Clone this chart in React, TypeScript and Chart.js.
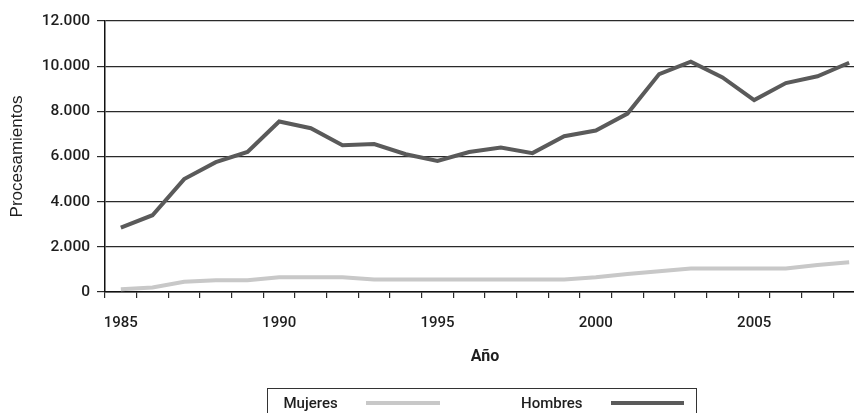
import React, { useEffect, useRef } from "react";
import { Chart, registerables } from "chart.js";

Chart.register(...registerables);

const years = [
  "1985", "1986", "1987", "1988", "1989", "1990", "1991", "1992",
  "1993", "1994", "1995", "1996", "1997", "1998", "1999", "2000",
  "2001", "2002", "2003", "2004", "2005", "2006", "2007", "2008",
];
const mujeres = [
  120, 200, 450, 520, 520, 650, 650, 650, 550, 550, 550, 550,
  550, 550, 550, 650, 800, 920, 1040, 1040, 1040, 1040, 1200, 1320,
];
const hombres = [
  2850, 3400, 5000, 5750, 6200, 7550, 7250, 6500, 6550, 6100, 5800, 6200,
  6400, 6150, 6900, 7150, 7900, 9650, 10200, 9500, 8500, 9250, 9550, 10150,
];
const yTicks = [0, 2000, 4000, 6000, 8000, 10000, 12000];
const seriesNames = ["Mujeres", "Hombres"];
const xTitle = "Año";
const yTitle = "Procesamientos";

const TICK_FONT = "Roboto, 'DejaVu Sans Condensed', sans-serif";
const TEXT = "#1e1e1e";
const GRID = "#2a2a2a";

const fmt = (n: number) =>
  String(n).replace(/\B(?=(\d{3})+(?!\d))/g, ".");

const legendPlugin = {
  id: "boxLegend",
  afterDraw(chart: any) {
    const ctx = chart.ctx as CanvasRenderingContext2D;
    const ds = chart.data.datasets;
    ctx.save();
    ctx.strokeStyle = "#333333";
    ctx.lineWidth = 1;
    ctx.strokeRect(267.5, 388.5, 429, 40);
    ctx.font = `500 15px ${TICK_FONT}`;
    ctx.fillStyle = TEXT;
    ctx.textBaseline = "middle";
    const items = [
      { tx: 283.5, lx0: 366, lx1: 440 },
      { tx: 521, lx0: 611, lx1: 684 },
    ];
    items.forEach((it, i) => {
      ctx.fillText(ds[i].label, it.tx, 404);
      ctx.strokeStyle = ds[i].borderColor;
      ctx.lineWidth = 4;
      ctx.beginPath();
      ctx.moveTo(it.lx0, 403);
      ctx.lineTo(it.lx1, 403);
      ctx.stroke();
    });
    ctx.restore();
  },
};

export default function App() {
  const ref = useRef<HTMLCanvasElement | null>(null);

  useEffect(() => {
    if (!ref.current) return;
    const chart = new Chart(ref.current, {
      type: "line",
      data: {
        labels: years,
        datasets: [
          {
            label: seriesNames[0],
            data: mujeres,
            borderColor: "#c8c8c8",
            backgroundColor: "#c8c8c8",
            borderWidth: 4,
            pointRadius: 0,
            tension: 0,
          },
          {
            label: seriesNames[1],
            data: hombres,
            borderColor: "#5a5a5a",
            backgroundColor: "#5a5a5a",
            borderWidth: 4,
            pointRadius: 0,
            tension: 0,
          },
        ],
      },
      options: {
        animation: false,
        responsive: false,
        layout: { padding: { left: 7.3, top: 21, right: 2, bottom: 46.4 } },
        plugins: {
          legend: { display: false },
          tooltip: { enabled: false },
        },
        scales: {
          x: {
            type: "category",
            offset: true,
            grid: {
              offset: true,
              drawOnChartArea: false,
              drawTicks: true,
              tickLength: 6,
              color: GRID,
              lineWidth: 1.2,
            },
            border: { display: true, color: "#111111", width: 1.5 },
            ticks: {
              autoSkip: false,
              maxRotation: 0,
              minRotation: 0,
              padding: 16,
              color: TEXT,
              font: { family: TICK_FONT, size: 15, weight: "500" },
              callback: (_v: any, i: number) =>
                Number(years[i]) % 5 === 0 ? years[i] : "",
            },
            title: {
              display: true,
              text: xTitle,
              color: TEXT,
              padding: { top: 0, bottom: 0 },
              font: { family: TICK_FONT, size: 16, weight: "bold" },
            },
            afterFit: (s: any) => {
              s.height = 74.6;
            },
          },
          y: {
            min: 0,
            max: 12000,
            afterBuildTicks: (s: any) => {
              s.ticks = yTicks.map((v) => ({ value: v }));
            },
            grid: {
              color: GRID,
              lineWidth: 1.2,
              drawTicks: true,
              tickLength: 8,
            },
            border: { display: true, color: "#111111", width: 1.5 },
            ticks: {
              padding: 7,
              color: TEXT,
              font: { family: TICK_FONT, size: 15.5, weight: "500" },
              callback: (v: any) => fmt(Number(v)),
            },
            title: {
              display: true,
              text: yTitle,
              color: TEXT,
              padding: { top: 0, bottom: 0 },
              font: { family: "'Liberation Sans', Arial, sans-serif", size: 17 },
            },
            afterFit: (s: any) => {
              s.width = 97.7;
            },
          },
        },
      },
      plugins: [legendPlugin],
    });
    return () => chart.destroy();
  }, []);

  return (
    <div
      style={{
        position: "fixed",
        left: 0,
        top: 0,
        width: 854,
        height: 413,
        overflow: "hidden",
        background: "#ffffff",
      }}
    >
      <canvas ref={ref} width={867} height={413} style={{ width: 867, height: 413, display: "block" }} />
    </div>
  );
}
